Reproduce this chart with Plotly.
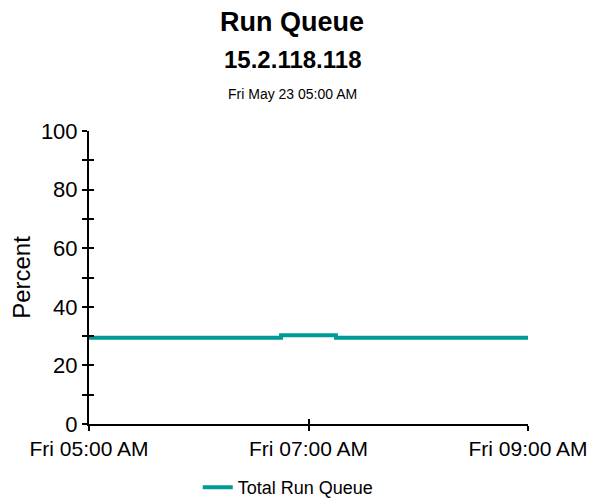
import plotly.graph_objects as go

# Run queue samples (15-minute intervals)
times = [
    '2003-05-23 05:00', '2003-05-23 05:15', '2003-05-23 05:30', '2003-05-23 05:45',
    '2003-05-23 06:00', '2003-05-23 06:15', '2003-05-23 06:30', '2003-05-23 06:45',
    '2003-05-23 07:00', '2003-05-23 07:15', '2003-05-23 07:30', '2003-05-23 07:45',
    '2003-05-23 08:00', '2003-05-23 08:15', '2003-05-23 08:30', '2003-05-23 08:45',
    '2003-05-23 09:00',
]
run_queue = [29.4, 29.4, 29.4, 29.4, 29.4, 29.4, 29.4, 30.3,
             30.3, 29.4, 29.4, 29.4, 29.4, 29.4, 29.4, 29.4, 29.4]

x_ticks = ['2003-05-23 05:00', '2003-05-23 07:00', '2003-05-23 09:00']
x_labels = ['Fri 05:00 AM', 'Fri 07:00 AM', 'Fri 09:00 AM']
y_ticks = [0, 20, 40, 60, 80, 100]

TEAL = '#009B96'
FONT = 'Liberation Sans, Arial, sans-serif'

# page body has an 8px margin, so the figure is laid out 8px up/left
W, H = 595, 498
L, R, T, B = 81, 75, 123, 82

fig = go.Figure()
fig.add_trace(go.Scatter(
    x=times,
    y=run_queue,
    mode='lines',
    line=dict(color=TEAL, width=4, shape='hv'),
    name='Total Run Queue',
))

# invisible trace so the overlay axes (inner half of the tick crosses) are drawn
fig.add_trace(go.Scatter(
    x=[times[0]], y=[0], xaxis='x2', yaxis='y2',
    mode='markers', marker=dict(opacity=0), showlegend=False, hoverinfo='skip',
))

axis_common = dict(showgrid=False, zeroline=False, showline=True, automargin=False,
                   linecolor='black', linewidth=2, tickcolor='black', tickwidth=2)

fig.update_layout(
    width=W,
    height=H,
    margin=dict(l=L, r=R, t=T, b=B, autoexpand=False),
    plot_bgcolor='white',
    paper_bgcolor='white',
    font=dict(family=FONT, color='black'),
    showlegend=True,
    legend=dict(
        orientation='h', xref='container', yref='container',
        x=0.471, xanchor='center', y=0.0, yanchor='bottom',
        font=dict(size=18), itemwidth=30,
    ),
    xaxis=dict(
        range=[times[0], times[-1]],
        tickvals=x_ticks, ticktext=x_labels,
        ticks='outside', ticklen=5,
        tickfont=dict(size=21),
        **axis_common,
    ),
    yaxis=dict(
        range=[0, 100],
        tickvals=y_ticks,
        ticks='outside', ticklen=5,
        minor=dict(dtick=10, ticks='outside', ticklen=5, tickcolor='black', tickwidth=2),
        tickfont=dict(size=22),
        title=dict(text='Percent', font=dict(size=24), standoff=5),
        **axis_common,
    ),
    xaxis2=dict(
        overlaying='x', anchor='y2', range=[times[0], times[-1]],
        tickvals=x_ticks, ticks='inside', ticklen=5, showticklabels=False,
        **axis_common,
    ),
    yaxis2=dict(
        overlaying='y', anchor='x2', side='left', range=[0, 100],
        tickvals=y_ticks, ticks='inside', ticklen=5, showticklabels=False,
        minor=dict(dtick=10, ticks='inside', ticklen=5, tickcolor='black', tickwidth=2),
        **axis_common,
    ),
    annotations=[
        dict(text='<b>Run Queue</b>', x=284, y=14, font=dict(size=27)),
        dict(text='<b>15.2.118.118</b>', x=284, y=52, font=dict(size=24)),
        dict(text='Fri May 23 05:00 AM', x=284, y=86, font=dict(size=14)),
    ],
)
# header lines are placed by pixel position, converted to paper coordinates
plot_w = W - L - R
plot_h = H - T - B
for a in fig.layout.annotations:
    a.update(xref='paper', yref='paper', showarrow=False, xanchor='center', yanchor='middle')
    a.y = 1 + (T - a.y) / plot_h
    a.x = (a.x - L) / plot_w

fig.write_html('out.html')
